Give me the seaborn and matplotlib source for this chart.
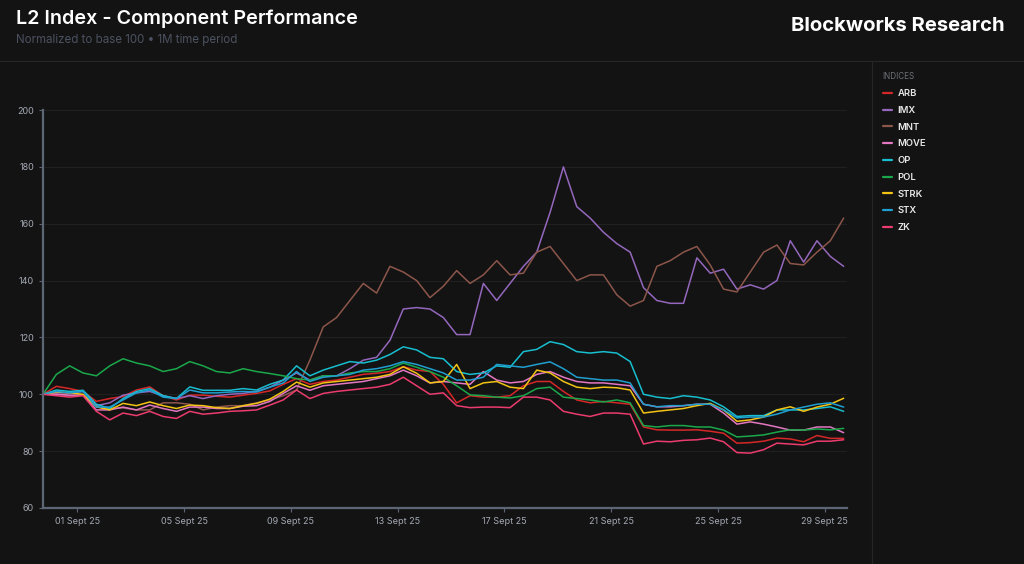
#!/usr/bin/env python3
from __future__ import annotations

import pandas as pd
import matplotlib
matplotlib.use("Agg")
import matplotlib.pyplot as plt
import matplotlib.dates as mdates
from matplotlib.lines import Line2D
import seaborn as sns

# 12-hourly samples, starting 30 Aug 25 17:00
START = "2025-08-30 17:00"
N_POINTS = 61

ARB = [100, 102.8, 102, 101, 97.5, 98.5, 99.2, 101.5, 102.6, 99.5,
       98, 99.7, 99.7, 99.3, 99, 99.7, 100.3, 101.2, 103.5, 105.5,
       103.5, 104.5, 105, 106, 107, 107.4, 108, 109.7, 108.5, 108,
       103.5, 97, 99.5, 99, 99, 99.5, 103, 104.5, 104.5, 101,
       98, 97, 97.5, 97, 96.5, 88.5, 87.5, 87.4, 87.4, 87.5,
       87, 86.3, 82.8, 83, 83.5, 84.6, 84.3, 83.3, 85.5, 84.5, 84.5]
IMX = [100, 100.5, 100.5, 101, 96, 97, 99.7, 100.5, 101, 99.5,
       98.5, 99.5, 98.5, 99.5, 100, 100.3, 101, 102.5, 105, 107.5,
       105, 106.5, 106.5, 109, 112, 113, 119, 130, 130.5, 130,
       127, 121, 121, 139, 133, 139, 145, 150, 164, 180,
       166, 162, 157, 153, 150, 137.5, 133, 132, 132, 148,
       142.6, 144, 137, 138.5, 137, 140, 154, 146.5, 154, 148.5, 145]
MNT = [100, 100, 99.5, 99.8, 95.5, 95, 95.2, 94.5, 94.5, 97,
       97, 96.5, 94.5, 95.5, 96, 96, 97, 98, 99.5, 101.5,
       112, 123.7, 127, 133, 139, 135.6, 145, 143, 140, 134,
       138, 143.5, 139, 142, 147, 142, 142.6, 150, 152, 146,
       140, 142, 142, 135, 131, 133, 145, 147, 150, 152,
       145.5, 137, 136, 143, 150, 152.5, 146, 145.5, 150, 154, 162]
MOVE = [100, 100, 99.7, 99.7, 94.5, 94.5, 95.5, 94.5, 96.2, 95,
        94, 95.5, 95.5, 95, 95, 95.8, 96, 97.5, 100.3, 103,
        101.4, 103, 103.5, 104, 104.5, 105.5, 106.5, 108.5, 106.5, 104,
        104.5, 104, 103.5, 108, 105, 104, 104.5, 107, 108, 106,
        104.5, 104, 104, 103.5, 103, 96.5, 95.6, 95.6, 96, 96.5,
        96.5, 93.4, 89.5, 90.3, 89.5, 88.5, 87.4, 87.4, 88.5, 88.5, 86.5]
OP = [100, 101.5, 101, 101.4, 96.5, 95, 98.5, 101, 102, 99.5,
      98.5, 102.6, 101.4, 101.4, 101.4, 102, 101.5, 103.5, 105, 110,
      106.5, 108.5, 110, 111.5, 111, 112, 114, 116.7, 115.6, 113,
      112.5, 108, 107, 107.5, 110, 109.5, 115, 115.8, 118.5, 117.5,
      115, 114.5, 115, 114.5, 111.5, 100, 99, 98.5, 99.5, 99,
      98, 95.6, 92.2, 92.5, 92.5, 94.5, 94.5, 94.5, 95, 95.6, 94]
POL = [100, 107, 110, 107.5, 106.5, 110, 112.5, 111, 110, 108,
       109, 111.5, 110, 108, 107.5, 109, 108, 107.3, 106.5, 105.5,
       105, 106.5, 106.5, 107.5, 108, 108, 109, 111, 109.5, 108,
       106, 103, 99.8, 99.5, 99, 98.7, 99.5, 102, 102.5, 99,
       98.5, 98, 97.3, 98, 97, 89, 88.5, 89, 89, 88.5,
       88.5, 87.4, 85, 85.3, 85.7, 86.7, 87.5, 87.4, 87.8, 87.5, 88]
STRK = [100, 100.8, 100.5, 100, 95.6, 94.5, 96.8, 96, 97.3, 96,
        95, 96.2, 96, 95.3, 95, 96, 96.8, 98.3, 101, 104.3,
        102.5, 104, 104.5, 105, 105.5, 106, 107, 109.7, 107.4, 104,
        104.5, 110.5, 102, 104, 104.5, 102.5, 102, 108.5, 107.5, 104.5,
        102.5, 102, 102.5, 102.3, 101.5, 93.4, 94, 94.5, 95, 96,
        96.8, 94.5, 90.5, 91, 92, 94.5, 95.6, 94, 95.5, 96.5, 98.6]
STX = [100, 101, 100.5, 101, 95.5, 95.5, 98, 100.5, 101.5, 99,
       98.5, 101.5, 100.5, 100.5, 100.8, 101, 100.8, 102.5, 104, 108,
       104.5, 106, 106.5, 107, 108.5, 109, 110, 111.5, 110.5, 109,
       107.5, 105, 105, 106, 110.5, 110, 109.5, 110.5, 111.4, 109,
       106, 105.5, 105, 105, 104, 96.5, 95.6, 96, 96, 96.5,
       96.5, 94.5, 91.7, 92, 92, 93, 94.5, 95.5, 96.5, 97, 95.5]
ZK = [100, 99.5, 99, 99.5, 94, 91, 93.4, 92.5, 94, 92.2,
      91.5, 94, 93, 93.4, 94, 94.2, 94.5, 96.2, 98, 101.5,
      98.5, 100.3, 101, 101.5, 102, 102.5, 103.5, 106, 103, 100,
      100.5, 96, 95.3, 95.5, 95.5, 95.3, 99, 99, 98, 94,
      93, 92.2, 93.4, 93.4, 93, 82.5, 83.5, 83.3, 83.8, 84,
      84.6, 83.3, 79.5, 79.3, 80.5, 82.8, 82.5, 82.2, 83.5, 83.5, 84]

NAMES = ["ARB", "IMX", "MNT", "MOVE", "OP", "POL", "STRK", "STX", "ZK"]
COLORS = {
    "ARB": "#d62728",
    "IMX": "#9467bd",
    "MNT": "#8c564b",
    "MOVE": "#e377c2",
    "OP": "#17becf",
    "POL": "#1aa84a",
    "STRK": "#f2c314",
    "STX": "#1f9fd0",
    "ZK": "#ec3b6e",
}

BG = "#131313"
GRID = "#202020"
SPINE = "#5d6675"
TICK_TXT = "#a3a9b3"


def _long_frame() -> pd.DataFrame:
    dates = pd.date_range(START, periods=N_POINTS, freq="12h")
    series = dict(zip(NAMES, [ARB, IMX, MNT, MOVE, OP, POL, STRK, STX, ZK]))
    rows = []
    for name, vals in series.items():
        rows.append(pd.DataFrame({"Date": dates, "Value": vals, "Index": name}))
    return pd.concat(rows, ignore_index=True)


def main():
    sns.set_theme(style="dark")
    plt.rcParams["font.family"] = ["Inter", "DejaVu Sans"]

    df = _long_frame()

    fig = plt.figure(figsize=(10.24, 5.64), dpi=100, facecolor=BG)
    ax = fig.add_axes([43 / 1024, 1 - 508 / 564, 804 / 1024, 398 / 564])
    ax.set_facecolor(BG)

    sns.lineplot(data=df, x="Date", y="Value", hue="Index", hue_order=NAMES,
                 palette=COLORS, linewidth=1.1, legend=False, ax=ax)

    ax.axhline(100, color="#6b6b6b", linewidth=0.7, linestyle=(0, (3, 3)), zorder=0.5)

    start = pd.Timestamp(START)
    ax.set_xlim(start, start + pd.Timedelta(hours=723))
    ax.set_ylim(60, 200)
    ax.set_yticks(range(60, 201, 20))
    ax.xaxis.set_major_locator(mdates.DayLocator(bymonthday=[1, 5, 9, 13, 17, 21, 25, 29]))
    ax.xaxis.set_major_formatter(mdates.DateFormatter("%d Sept %y"))

    ax.grid(axis="y", color=GRID, linewidth=0.8)
    ax.grid(axis="x", visible=False)
    for side in ("top", "right"):
        ax.spines[side].set_visible(False)
    for side in ("left", "bottom"):
        ax.spines[side].set_visible(True)
        ax.spines[side].set_color(SPINE)
        ax.spines[side].set_linewidth(1.6)
    ax.tick_params(axis="both", colors=SPINE, labelcolor=TICK_TXT, labelsize=6.5,
                   length=3, width=0.8, direction="out", left=True, bottom=True)
    ax.set_xlabel("")
    ax.set_ylabel("")

    # header
    fig.text(16 / 1024, 1 - 19 / 564, "L2 Index - Component Performance", color="white",
             fontsize=14.2, fontweight="semibold", va="center", ha="left")
    fig.text(16 / 1024, 1 - 40 / 564, "Normalized to base 100 \u2022 1M time period", color="#4b5260",
             fontsize=8.3, va="center", ha="left")
    fig.text(1005 / 1024, 1 - 26 / 564, "Blockworks Research", color="white",
             fontsize=14.6, fontweight="bold", va="center", ha="right")

    fig.add_artist(Line2D([0, 1], [1 - 61 / 564] * 2, color="#262626", linewidth=0.8))
    fig.add_artist(Line2D([872 / 1024] * 2, [0, 1 - 61 / 564], color="#262626", linewidth=0.8))

    # legend panel
    handles = [Line2D([0], [0], color=COLORS[n], linewidth=1.6) for n in NAMES]
    leg = fig.legend(handles, NAMES, loc="upper left", bbox_to_anchor=(874 / 1024, 1 - 64 / 564),
                     frameon=False, title="INDICES", fontsize=6.8, title_fontsize=5.8,
                     handlelength=1.0, handletextpad=0.6, labelspacing=0.82)
    leg._legend_box.align = "left"
    leg.get_title().set_color("#6b7078")
    for t in leg.get_texts():
        t.set_color("#e8e8e8")
        t.set_fontweight("semibold")

    fig.savefig("out.png", dpi=100, facecolor=BG)
    plt.close(fig)


if __name__ == "__main__":
    main()
